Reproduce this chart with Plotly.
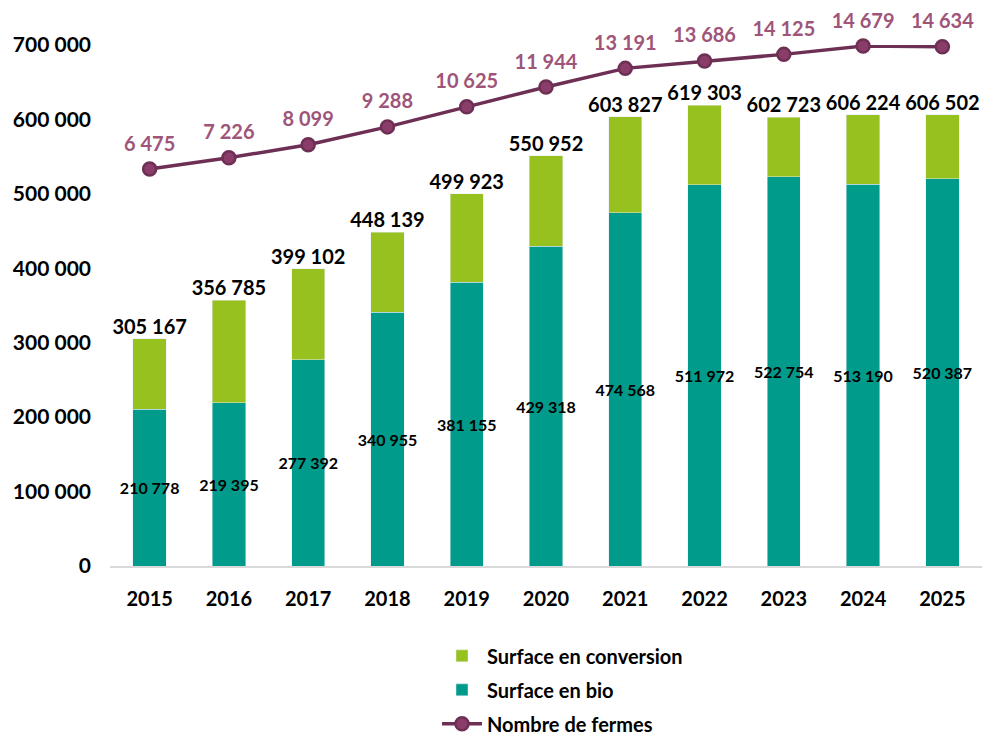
import plotly.graph_objects as go

years = ["2015", "2016", "2017", "2018", "2019", "2020", "2021", "2022", "2023", "2024", "2025"]
surface_bio = [210778, 219395, 277392, 340955, 381155, 429318, 474568, 511972, 522754, 513190, 520387]
surface_total = [305167, 356785, 399102, 448139, 499923, 550952, 603827, 619303, 602723, 606224, 606502]
nb_fermes = [6475, 7226, 8099, 9288, 10625, 11944, 13191, 13686, 14125, 14679, 14634]

surface_conv = [t - b for t, b in zip(surface_total, surface_bio)]

font_family = "Lato, 'Open Sans', sans-serif"
teal = "#009B8A"
green = "#97C11F"
plum = "#6E2F55"
plum_txt = "#9E5579"

fig = go.Figure()

fig.add_trace(
    go.Bar(
        x=years, y=surface_bio, name="Surface en bio", marker_color=teal,
        text=surface_bio, texttemplate="%{y:,}", textposition="inside",
        insidetextanchor="middle", constraintext="none", textangle=0,
        textfont=dict(color="black", size=16, family=font_family, weight="bold"),
        legendrank=2, legendgroup="bio",
    )
)
fig.add_trace(
    go.Bar(
        x=years, y=surface_conv, name="Surface en conversion", marker_color=green,
        textposition="none", legendrank=1, legendgroup="conv",
    )
)
fig.add_trace(
    go.Scatter(
        x=years, y=surface_total, mode="text", text=surface_total,
        texttemplate="%{y:,}", textposition="top center", showlegend=False,
        cliponaxis=False,
        textfont=dict(color="black", size=20, family=font_family, weight="bold"),
        hoverinfo="skip",
    )
)
fig.add_trace(
    go.Scatter(
        x=years, y=nb_fermes, name="Nombre de fermes", yaxis="y2",
        mode="lines+markers",
        cliponaxis=False,
        line=dict(color=plum, width=3.5),
        marker=dict(size=13, color="#8A3D68", line=dict(color=plum, width=2.5)),
        legendrank=3, legendgroup="fermes",
    )
)
# farm labels, pushed a bit higher via an invisible marker
fig.add_trace(
    go.Scatter(
        x=years, y=nb_fermes, yaxis="y2", mode="markers+text",
        texttemplate="%{y:,}", textposition="top center", showlegend=False,
        cliponaxis=False, hoverinfo="skip",
        marker=dict(size=20, color="rgba(0,0,0,0)"),
        textfont=dict(color=plum_txt, size=20, family=font_family, weight="bold"),
    )
)

fig.update_layout(
    width=988, height=727,
    barmode="stack", bargap=0.58,
    separators=", ",
    plot_bgcolor="white", paper_bgcolor="white",
    font=dict(family=font_family, size=20, color="black"),
    margin=dict(l=102, r=14, t=37, b=169, autoexpand=False),
    xaxis=dict(
        range=[-0.5, 10.5],
        showgrid=False, showline=True, linecolor="#D9D9D9", linewidth=1.5,
        tickfont=dict(size=20, family=font_family, weight="bold"), ticks="",
        automargin=False, ticklabelstandoff=14,
    ),
    yaxis=dict(
        range=[0, 700000], tickvals=[0, 100000, 200000, 300000, 400000, 500000, 600000, 700000],
        tickformat=",", showgrid=False, zeroline=False, automargin=False,
        ticklabelstandoff=18,
        tickfont=dict(size=21, family=font_family, weight="bold"),
    ),
    yaxis2=dict(
        overlaying="y", side="right", range=[-20000, 14750], visible=False,
    ),
    legend=dict(
        orientation="v", x=0.375, xanchor="left", y=-0.135, yanchor="top",
        traceorder="grouped",
        font=dict(size=20, family=font_family, weight="bold"),
        tracegroupgap=5, itemwidth=40,
    ),
)

fig.write_html("out.html")
